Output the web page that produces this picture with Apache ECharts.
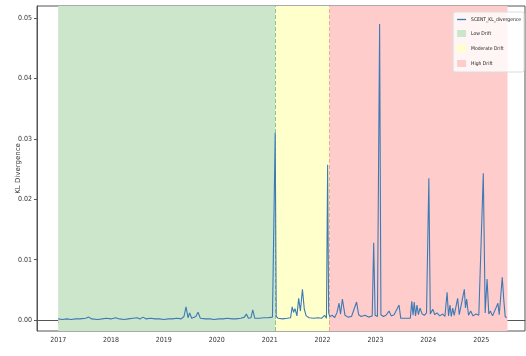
<!DOCTYPE html>
<html>
<head>
<meta charset="utf-8">
<script src="https://cdn.jsdelivr.net/npm/echarts@6/dist/echarts.min.js"></script>
<style>
  html, body { margin: 0; padding: 0; background: #fff; }
  #chart { width: 526px; height: 356px; }
</style>
</head>
<body>
<div id="chart"></div>
<script>
// KL divergence readings (date, value)
const dates = [
  '2017-01-01', '2017-02-01', '2017-03-01', '2017-04-01', '2017-05-01', '2017-06-01',
  '2017-07-10', '2017-08-01', '2017-08-20', '2017-10-01', '2017-11-01', '2017-12-01',
  '2018-01-01', '2018-02-01', '2018-03-01', '2018-04-01', '2018-05-01', '2018-06-01',
  '2018-07-01', '2018-07-20', '2018-08-10', '2018-09-01', '2018-10-01', '2018-11-01',
  '2018-12-01', '2019-01-01', '2019-02-01', '2019-03-01', '2019-04-01', '2019-05-01',
  '2019-05-20', '2019-06-03', '2019-06-17', '2019-06-28', '2019-07-12', '2019-08-10',
  '2019-08-25', '2019-09-10', '2019-10-15', '2019-11-15', '2019-12-15', '2020-01-15',
  '2020-02-15', '2020-03-15', '2020-04-15', '2020-05-15', '2020-06-15', '2020-07-10',
  '2020-07-24', '2020-08-07', '2020-08-25', '2020-09-06', '2020-09-20', '2020-10-20',
  '2020-11-20', '2020-12-20', '2021-01-20', '2021-02-01', '2021-02-08', '2021-02-15',
  '2021-03-01', '2021-04-01', '2021-05-01', '2021-05-25', '2021-06-05', '2021-06-15',
  '2021-06-25', '2021-07-08', '2021-07-20', '2021-08-01', '2021-08-15', '2021-08-28',
  '2021-09-10', '2021-10-01', '2021-11-01', '2021-12-01', '2021-12-25', '2022-01-15',
  '2022-01-28', '2022-02-05', '2022-02-12', '2022-02-20', '2022-03-10', '2022-03-25',
  '2022-04-10', '2022-04-25', '2022-05-05', '2022-05-18', '2022-06-05', '2022-06-25',
  '2022-07-20', '2022-08-24', '2022-09-07', '2022-09-25', '2022-10-20', '2022-11-15',
  '2022-12-10', '2022-12-20', '2022-12-30', '2023-01-15', '2023-01-30', '2023-02-08',
  '2023-02-25', '2023-03-15', '2023-04-05', '2023-04-20', '2023-05-10', '2023-06-13',
  '2023-06-25', '2023-08-01', '2023-08-30', '2023-09-09', '2023-09-18', '2023-09-26',
  '2023-10-05', '2023-10-15', '2023-10-25', '2023-11-05', '2023-11-20', '2023-12-05',
  '2023-12-20', '2024-01-05', '2024-01-15', '2024-02-01', '2024-02-15', '2024-03-01',
  '2024-03-20', '2024-04-10', '2024-04-25', '2024-05-10', '2024-05-20', '2024-05-30',
  '2024-06-08', '2024-06-18', '2024-06-28', '2024-07-22', '2024-08-02', '2024-08-15',
  '2024-09-06', '2024-09-14', '2024-09-22', '2024-10-05', '2024-10-20', '2024-11-05',
  '2024-11-25', '2024-12-15', '2025-01-15', '2025-01-28', '2025-02-10', '2025-02-22',
  '2025-03-05', '2025-03-20', '2025-04-01', '2025-04-26', '2025-05-05', '2025-05-26',
  '2025-06-05', '2025-06-15', '2025-06-25'
];
const klValues = [
  0.0002, 0.0001, 0.0002, 0.0001, 0.0002, 0.0002,
  0.0003, 0.0005, 0.0002, 0.0001, 0.0002, 0.0003,
  0.0002, 0.0004, 0.0002, 0.0001, 0.0002, 0.0003,
  0.0004, 0.0002, 0.0005, 0.0002, 0.0003, 0.0002,
  0.0002, 0.0001, 0.0002, 0.0002, 0.0003, 0.0002,
  0.0006, 0.0022, 0.0004, 0.0012, 0.0003, 0.0006,
  0.0013, 0.0003, 0.0002, 0.0002, 0.0001, 0.0002,
  0.0002, 0.0003, 0.0002, 0.0002, 0.0003, 0.0005,
  0.0010, 0.0003, 0.0004, 0.0017, 0.0003, 0.0003,
  0.0004, 0.0004, 0.0005, 0.0004, 0.0310, 0.0006,
  0.0003, 0.0002, 0.0003, 0.0004, 0.0022, 0.0013,
  0.0019, 0.0007, 0.0036, 0.0015, 0.0051, 0.0018,
  0.0007, 0.0004, 0.0003, 0.0004, 0.0003, 0.0008,
  0.0003, 0.0257, 0.0012, 0.0006, 0.0008, 0.0004,
  0.0012, 0.0028, 0.0010, 0.0035, 0.0008, 0.0005,
  0.0006, 0.0030, 0.0009, 0.0006, 0.0008, 0.0005,
  0.0007, 0.0128, 0.0008, 0.0006, 0.0490, 0.0009,
  0.0006, 0.0008, 0.0015, 0.0007, 0.0009, 0.0025,
  0.0003, 0.0003, 0.0003, 0.0031, 0.0008, 0.0030,
  0.0007, 0.0025, 0.0009, 0.0020, 0.0010, 0.0008,
  0.0012, 0.0235, 0.0010, 0.0018, 0.0009, 0.0012,
  0.0007, 0.0010, 0.0006, 0.0046, 0.0007, 0.0025,
  0.0006, 0.0020, 0.0008, 0.0036, 0.0009, 0.0012,
  0.0051, 0.0020, 0.0035, 0.0008, 0.0015, 0.0007,
  0.0010, 0.0008, 0.0243, 0.0012, 0.0068, 0.0010,
  0.0015, 0.0007, 0.0008, 0.0028, 0.0009, 0.0071,
  0.0035, 0.0006, 0.0004
];

// drift regimes
const driftNames = ['Low Drift', 'Moderate Drift', 'High Drift'];
const driftStarts = ['2017-01-01', '2021-02-10', '2022-02-18'];
const driftEnds = ['2021-02-10', '2022-02-18', '2025-07-01'];
const driftColors = ['#cce6cc', '#ffffcc', '#ffcccc'];
const boundaryColors = ['#8cc68c', '#f2a890'];

const yTicks = [0, 0.01, 0.02, 0.03, 0.04, 0.05];

const ts = s => new Date(s + 'T00:00:00Z').getTime();

const chart = echarts.init(document.getElementById('chart'));

const axisFont = "'DejaVu Sans Condensed', 'Liberation Sans', sans-serif";

const option = {
  animation: false,
  grid: {
    left: 37,
    right: 1,
    top: 6,
    bottom: 25,
    outerBoundsMode: 'none',
    containLabel: false,
    show: true,
    borderColor: '#555',
    borderWidth: 1
  },
  legend: {
    right: 2,
    top: 12,
    orient: 'vertical',
    itemWidth: 9,
    itemHeight: 7,
    itemGap: 8,
    backgroundColor: 'rgba(255,255,255,0.8)',
    borderColor: '#ddd',
    borderWidth: 1,
    borderRadius: 2,
    padding: [5, 3, 5, 4],
    textStyle: { fontFamily: axisFont, fontSize: 5, color: '#222' },
    data: [
      { name: 'SCENT_KL_divergence', icon: 'path://M0,0 L20,0 L20,3 L0,3 Z' },
      { name: driftNames[0], icon: 'rect' },
      { name: driftNames[1], icon: 'rect' },
      { name: driftNames[2], icon: 'rect' }
    ]
  },
  xAxis: {
    type: 'time',
    min: ts('2016-08-08'),
    max: ts('2025-10-30'),
    splitNumber: 9,
    splitLine: { show: false },
    axisLine: { lineStyle: { color: '#555' } },
    axisTick: { show: true, length: 3, lineStyle: { color: '#555' } },
    minorTick: { show: false },
    axisLabel: {
      fontFamily: axisFont,
      fontSize: 7,
      color: '#333',
      margin: 6,
      formatter: '{yyyy}',
      showMinLabel: false,
      showMaxLabel: false
    }
  },
  yAxis: {
    type: 'value',
    min: -0.0018,
    max: 0.052,
    splitNumber: 5,
    name: 'KL Divergence',
    nameLocation: 'middle',
    nameGap: 15,
    nameMoveOverlap: false,
    nameTextStyle: { fontFamily: 'DejaVu Sans', fontSize: 7, color: '#333' },
    splitLine: { show: false },
    axisLine: { show: true, lineStyle: { color: '#555' } },
    axisTick: { show: true, length: 3, lineStyle: { color: '#555' } },
    axisLabel: {
      fontFamily: axisFont,
      fontSize: 7,
      color: '#333',
      margin: 5,
      showMinLabel: false,
      showMaxLabel: false,
      formatter: v => yTicks.some(t => Math.abs(t - v) < 1e-9) ? v.toFixed(2) : ''
    }
  },
  series: [
    {
      name: 'SCENT_KL_divergence',
      type: 'line',
      symbol: 'none',
      z: 5,
      data: dates.map((d, i) => [ts(d), klValues[i]]),
      lineStyle: { color: '#3d7ab3', width: 1.1 },
      itemStyle: { color: '#3d7ab3' },
      markArea: {
        silent: true,
        data: driftNames.map((n, i) => [
          { xAxis: ts(driftStarts[i]), itemStyle: { color: driftColors[i] } },
          { xAxis: ts(driftEnds[i]) }
        ])
      },
      markLine: {
        silent: true,
        symbol: 'none',
        label: { show: false },
        data: [
          { xAxis: ts(driftStarts[1]), lineStyle: { color: boundaryColors[0], type: [4, 2], width: 1 } },
          { xAxis: ts(driftStarts[2]), lineStyle: { color: boundaryColors[1], type: [4, 2], width: 1 } }
        ]
      }
    },
    ...driftNames.map((n, i) => ({
      name: n,
      type: 'line',
      symbol: 'none',
      data: [],
      itemStyle: { color: driftColors[i] },
      lineStyle: { color: driftColors[i] }
    }))
  ]
};

chart.setOption(option);
</script>
</body>
</html>
